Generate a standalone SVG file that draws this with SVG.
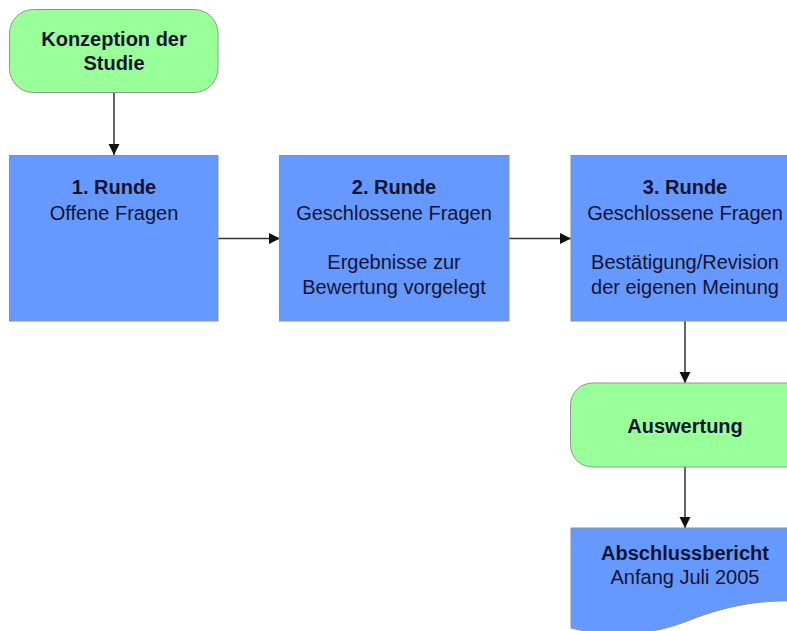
<svg xmlns="http://www.w3.org/2000/svg" width="787" height="631" viewBox="0 0 787 631">
<style>
.blue{fill:#6699FF;stroke:#8a8fa8;stroke-width:1}
.green{fill:#99FF99;stroke:#8a9a8a;stroke-width:1}
text{font-family:"Liberation Sans",Arial,sans-serif;font-size:20px;fill:#141430;text-anchor:middle}
.b{font-weight:bold}
.conn line{stroke:#333;stroke-width:1.5}
</style>
<defs>
<marker id="ah" markerWidth="12" markerHeight="12" refX="11" refY="5.5" orient="auto" markerUnits="userSpaceOnUse">
<path d="M0,0 L11,5.5 L0,11 Z" fill="#111"/>
</marker>
</defs>
<rect width="787" height="631" fill="#fff"/>
<g class="conn">
<line x1="114" y1="93" x2="114" y2="155" marker-end="url(#ah)"/>
<line x1="218" y1="238.5" x2="280" y2="238.5" marker-end="url(#ah)"/>
<line x1="509" y1="238.5" x2="571" y2="238.5" marker-end="url(#ah)"/>
<line x1="685" y1="321" x2="685" y2="383" marker-end="url(#ah)"/>
<line x1="685" y1="467" x2="685" y2="528" marker-end="url(#ah)"/>
</g>
<g id="konzeption">
<rect class="green" x="9.5" y="9.5" width="208.5" height="83" rx="24"/>
<text class="b" x="114" y="46">Konzeption der</text>
<text class="b" x="114" y="70">Studie</text>
</g>
<g id="runde1">
<rect class="blue" x="9.5" y="155.5" width="208.5" height="165.5"/>
<text class="b" x="114" y="194">1. Runde</text>
<text x="114" y="220">Offene Fragen</text>
</g>
<g id="runde2">
<rect class="blue" x="279.5" y="155.5" width="229.5" height="165.5"/>
<text class="b" x="394" y="194">2. Runde</text>
<text x="394" y="220">Geschlossene Fragen</text>
<text x="394" y="269">Ergebnisse zur</text>
<text x="394" y="294">Bewertung vorgelegt</text>
</g>
<g id="runde3">
<rect class="blue" x="571" y="155.5" width="230" height="165.5"/>
<text class="b" x="685" y="194">3. Runde</text>
<text x="685" y="220">Geschlossene Fragen</text>
<text x="685" y="269">Bestätigung/Revision</text>
<text x="685" y="294">der eigenen Meinung</text>
</g>
<g id="auswertung">
<rect class="green" x="570.5" y="383" width="240" height="84" rx="22"/>
<text class="b" x="685" y="433">Auswertung</text>
</g>
<g id="abschlussbericht">
<path class="blue" d="M571,528 H805 V602 C765,598 725,606 690,620 C650,636 610,638 571,628 Z"/>
<text class="b" x="685" y="560">Abschlussbericht</text>
<text x="685" y="584">Anfang Juli 2005</text>
</g>
</svg>
